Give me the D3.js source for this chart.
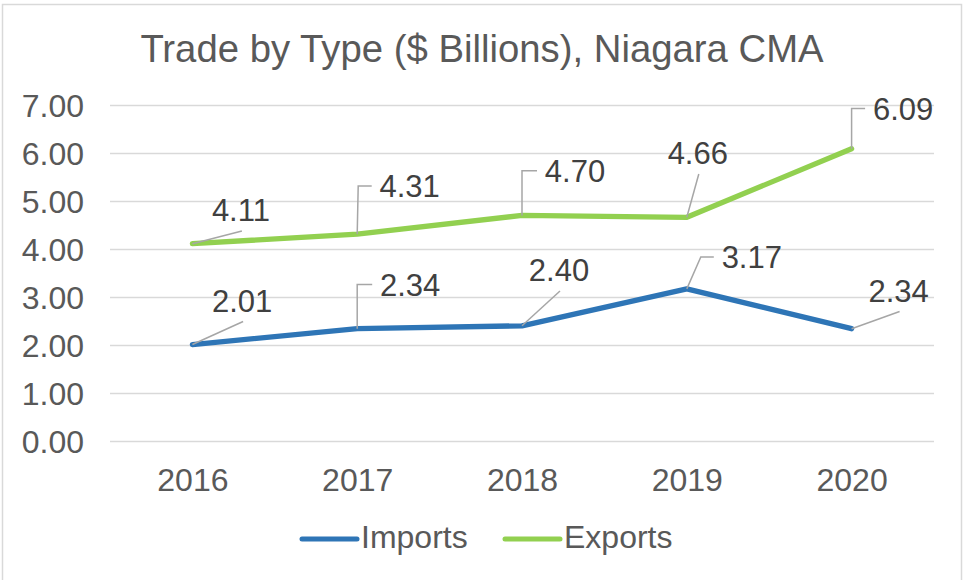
<!DOCTYPE html>
<html>
<head>
<meta charset="utf-8">
<script src="https://cdn.jsdelivr.net/npm/d3@7"></script>
<style>
  body { margin: 0; background: #fff; }
  svg { display: block; font-family: "Liberation Sans", Arial, sans-serif; }
</style>
</head>
<body>
<div id="chart"></div>
<script>
// data
const years = ["2016", "2017", "2018", "2019", "2020"];
const imports = [2.01, 2.34, 2.40, 3.17, 2.34];
const exports = [4.11, 4.31, 4.70, 4.66, 6.09];
const yTicks = [0, 1, 2, 3, 4, 5, 6, 7];
const seriesNames = ["Imports", "Exports"];

// where Excel put each data label, relative to its point (dx, dy of text centre)
// kind: "s" = straight leader, "e" = elbow leader (ex = x offset of the elbow)
const importLabels = [
  {dx: 49.7, dy: -44, kind: "s"},
  {dx: 53, dy: -44.2, kind: "e", ex: 0},
  {dx: 37, dy: -55.8, kind: "s"},
  {dx: 65, dy: -31.8, kind: "e", ex: 14},
  {dx: 47, dy: -38.2, kind: "s"}
];
const exportLabels = [
  {dx: 48.5, dy: -33.7, kind: "s"},
  {dx: 52.5, dy: -48, kind: "e", ex: 1},
  {dx: 53, dy: -44.7, kind: "e", ex: 0},
  {dx: 11, dy: -64.3, kind: "s"},
  {dx: 51.5, dy: -40.2, kind: "e", ex: 0}
];

const width = 963, height = 580;
const margin = {top: 105, right: 29, bottom: 139, left: 110};
const colors = {Imports: "#2e75b6", Exports: "#92d050"};

const svg = d3.select("#chart").append("svg")
  .attr("width", width)
  .attr("height", height);

// chart area border
svg.append("rect")
  .attr("x", 2.5).attr("y", 4.5)
  .attr("width", 959).attr("height", 590)
  .attr("fill", "#fff")
  .attr("stroke", "#d9d9d9")
  .attr("stroke-width", 1.5);

const x = d3.scalePoint()
  .domain(years)
  .range([margin.left, width - margin.right])
  .padding(0.5);

const y = d3.scaleLinear()
  .domain([0, 7])
  .range([height - margin.bottom, margin.top]);

// title
svg.append("text")
  .attr("x", 482).attr("y", 62)
  .attr("text-anchor", "middle")
  .attr("font-size", 38.3)
  .attr("fill", "#595959")
  .text("Trade by Type ($ Billions), Niagara CMA");

// y axis with gridlines
const yAxis = g => g
  .attr("transform", `translate(${margin.left},0)`)
  .call(d3.axisLeft(y)
    .tickValues(yTicks)
    .tickFormat(d3.format(".2f"))
    .tickSize(-(width - margin.left - margin.right))
    .tickPadding(26))
  .call(g => g.select(".domain").remove())
  .call(g => g.selectAll(".tick line")
    .attr("stroke", "#d9d9d9")
    .attr("stroke-width", 1.5))
  .call(g => g.selectAll(".tick text")
    .attr("font-size", 32)
    .attr("fill", "#595959")
    .attr("dy", "0.36em"));

svg.append("g").call(yAxis).attr("font-family", null);

// x axis labels
const xAxis = g => g
  .attr("transform", `translate(0,${height - margin.bottom})`)
  .call(d3.axisBottom(x).tickSize(0).tickPadding(27))
  .call(g => g.select(".domain").remove())
  .call(g => g.selectAll(".tick text")
    .attr("font-size", 32)
    .attr("fill", "#595959")
    .attr("dy", "0.71em"));

svg.append("g").call(xAxis).attr("font-family", null);

const line = d3.line()
  .x((d, i) => x(years[i]))
  .y(d => y(d));

const series = [
  {name: "Imports", values: imports, labels: importLabels},
  {name: "Exports", values: exports, labels: exportLabels}
];

series.forEach(s => {
  svg.append("path")
    .datum(s.values)
    .attr("fill", "none")
    .attr("stroke", colors[s.name])
    .attr("stroke-width", 5.3)
    .attr("stroke-linejoin", "round")
    .attr("stroke-linecap", "round")
    .attr("d", line);
});

// leader lines and data labels
series.forEach(s => {
  s.values.forEach((v, i) => {
    const px = x(years[i]), py = y(v);
    const lab = s.labels[i];
    const cx = px + lab.dx, cy = py + lab.dy;
    let pts;
    if (lab.kind === "s") {
      pts = [[px, py], [cx + 1, cy + 21]];
    } else {
      pts = [[px, py], [px + lab.ex, cy], [cx - 38, cy]];
    }
    svg.append("path")
      .attr("d", d3.line()(pts))
      .attr("fill", "none")
      .attr("stroke", "#a6a6a6")
      .attr("stroke-width", 1.5);
    svg.append("text")
      .attr("x", cx).attr("y", cy)
      .attr("dy", "0.36em")
      .attr("text-anchor", "middle")
      .attr("font-size", 31)
      .attr("fill", "#404040")
      .text(d3.format(".2f")(v));
  });
});

// legend
const legendPos = [302, 505];
seriesNames.forEach((name, i) => {
  const lx = legendPos[i];
  svg.append("line")
    .attr("x1", lx).attr("x2", lx + 55)
    .attr("y1", 539).attr("y2", 539)
    .attr("stroke", colors[name])
    .attr("stroke-width", 5)
    .attr("stroke-linecap", "round");
  svg.append("text")
    .attr("x", lx + 59).attr("y", 548)
    .attr("font-size", 32)
    .attr("fill", "#595959")
    .text(name);
});
</script>
</body>
</html>
